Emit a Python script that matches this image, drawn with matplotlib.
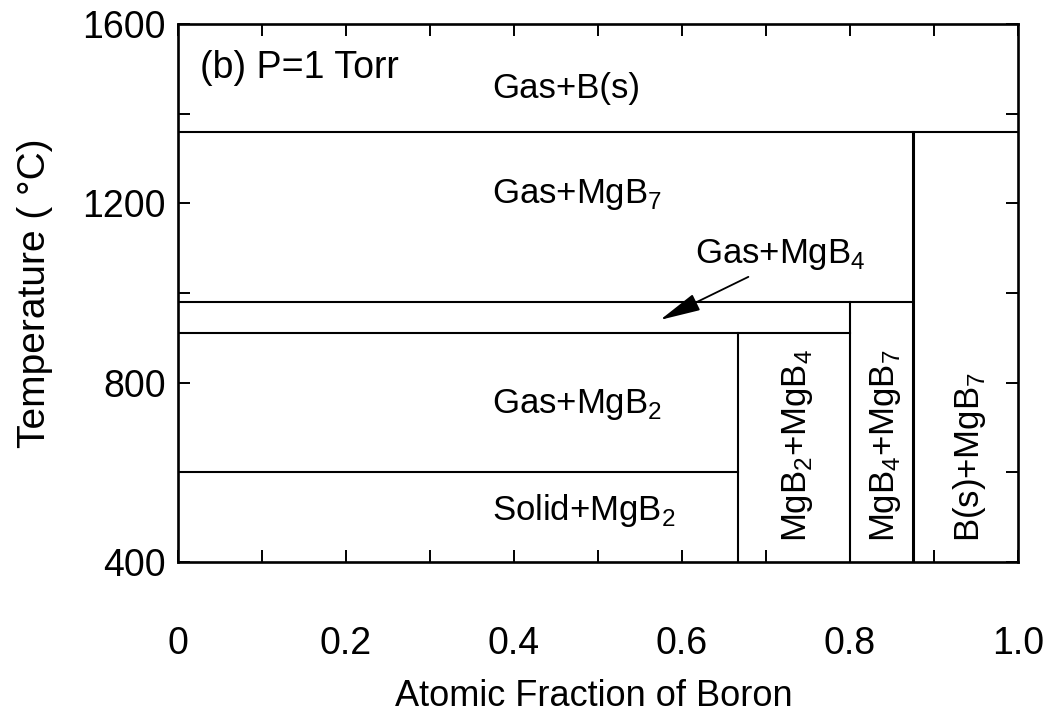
import numpy as np
import matplotlib
matplotlib.use('Agg')
import matplotlib.pyplot as plt
from matplotlib.ticker import MultipleLocator

plt.rcParams['font.family'] = 'Liberation Sans'

# phase boundaries (atomic fraction of boron, temperature in C)
x_mgb2 = 2/3
x_mgb4 = 0.8
x_mgb7 = 0.875
t_solid = 600     # Solid+MgB2 / Gas+MgB2
t_mgb2 = 910      # Gas+MgB2 / Gas+MgB4
t_mgb4 = 980      # Gas+MgB4 / Gas+MgB7
t_mgb7 = 1360     # Gas+MgB7 / Gas+B(s)

# horizontal boundaries: (temperature, x_end)
h_lines = [(t_solid, x_mgb2), (t_mgb2, x_mgb4), (t_mgb4, x_mgb7), (t_mgb7, 1.0)]
# vertical boundaries: (composition, t_top)
v_lines = [(x_mgb2, t_mgb2), (x_mgb4, t_mgb4), (x_mgb7, t_mgb7)]

# region labels: text, x, y
flat_labels = [
    ('Gas+B(s)', 0.374, 1435),
    ('Gas+MgB$_\\mathregular{7}$', 0.374, 1201),
    ('Gas+MgB$_\\mathregular{2}$', 0.374, 732),
    ('Solid+MgB$_\\mathregular{2}$', 0.374, 494),
]
vert_labels = [
    ('MgB$_\\mathregular{2}$+MgB$_\\mathregular{4}$', 0.738),
    ('MgB$_\\mathregular{4}$+MgB$_\\mathregular{7}$', 0.842),
    ('B(s)+MgB$_\\mathregular{7}$', 0.942),
]

fig = plt.figure(figsize=(10.51, 7.17), dpi=100)
ax = fig.add_axes([0.1694, 0.2162, 0.7992, 0.7503])

for t, xe in h_lines:
    ax.plot([0, xe], [t, t], color='k', lw=1.5)
for xv, tt in v_lines:
    lw = 2.2 if xv == x_mgb7 else 1.5
    ax.plot([xv, xv], [400, tt], color='k', lw=lw)

for txt, x, y in flat_labels:
    ax.text(x, y, txt, fontsize=25, ha='left', va='baseline')
for txt, x in vert_labels:
    ax.text(x, 445, txt, fontsize=25, rotation=90, ha='center', va='bottom')

ax.text(0.026, 1480, '(b) P=1 Torr', fontsize=27, ha='left', va='baseline')

ax.text(0.615, 1067, 'Gas+MgB$_\\mathregular{4}$', fontsize=25, ha='left', va='baseline')
ax.annotate('', xy=(0.574, 940), xytext=(0.679, 1036),
            arrowprops=dict(arrowstyle='-|>,head_length=0.6,head_width=0.13',
                            color='k', lw=1.3, mutation_scale=42,
                            shrinkA=0, shrinkB=0))

ax.set_xlim(0, 1.0)
ax.set_ylim(400, 1600)
ax.xaxis.set_minor_locator(MultipleLocator(0.1))
ax.yaxis.set_major_locator(MultipleLocator(400))
ax.yaxis.set_minor_locator(MultipleLocator(200))
ax.set_xticks([0, 0.2, 0.4, 0.6, 0.8, 1.0])
ax.set_xticklabels(['0', '0.2', '0.4', '0.6', '0.8', '1.0'])

ax.tick_params(which='both', direction='in', top=True, right=True,
               length=8.5, width=1.4)
ax.tick_params(axis='x', which='major', labelsize=27, pad=46)
ax.tick_params(axis='y', which='major', labelsize=27, pad=9)
for sp in ax.spines.values():
    sp.set_linewidth(1.9)

ax.set_xlabel('Atomic Fraction of Boron', fontsize=26)
ax.set_ylabel('Temperature ( °C)', fontsize=28)
ax.xaxis.set_label_coords(0.495, -0.217)
ax.yaxis.set_label_coords(-0.149, 0.5)

plt.savefig('out.png', dpi=100)
